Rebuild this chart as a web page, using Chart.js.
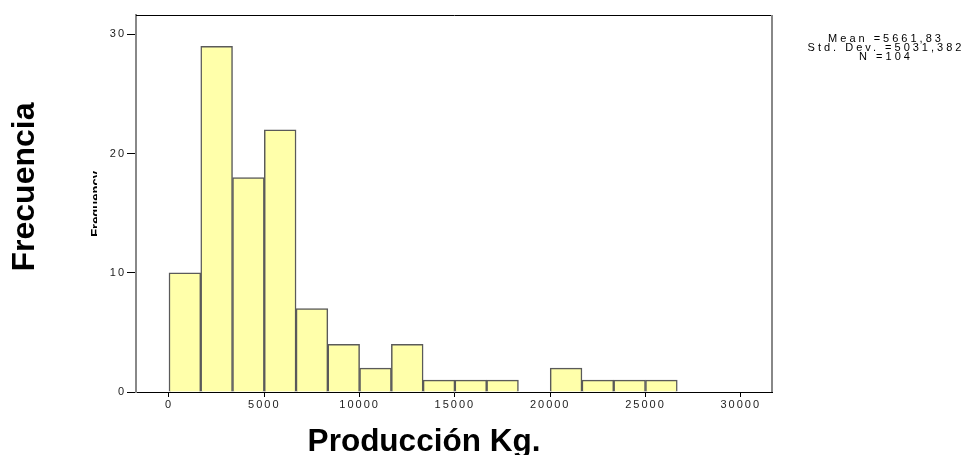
<!DOCTYPE html>
<html><head><meta charset="utf-8">
<script src="https://cdn.jsdelivr.net/npm/chart.js@4.4.0/dist/chart.umd.min.js"></script>
<style>html,body{margin:0;padding:0;background:#fff;overflow:hidden}#wrap{position:relative;width:962px;height:455px}</style>
</head><body><div id="wrap"><canvas id="c" width="962" height="455"></canvas></div>
<script>
const binStarts = [0, 1666.67, 3333.33, 5000, 6666.67, 8333.33, 10000, 11666.67, 13333.33, 15000, 16666.67, 18333.33, 20000, 21666.67, 23333.33, 25000];
const binWidth = 1666.67;
const frequencies = [10, 29, 18, 22, 7, 4, 2, 4, 1, 1, 1, 0, 2, 1, 1, 1];
const xTickValues = [0, 5000, 10000, 15000, 20000, 25000, 30000];
const yTickValues = [0, 10, 20, 30];
const xTitle = 'Producción Kg.';
const yTitle = 'Frecuencia';
const hiddenTitle = 'Frequency';
const statsLines = ['Mean =5661,83', 'Std. Dev. =5031,382', 'N =104'];

const points = binStarts.map((s, i) => ({ x: s + binWidth / 2, y: frequencies[i] }));

const textPlugin = {
  id: 'texts',
  beforeDraw(chart) { chart.ctx.letterSpacing = '2px'; },
  afterDraw(chart) {
    const ctx = chart.ctx;
    const a = chart.chartArea;
    ctx.save();
    ctx.letterSpacing = '0px';
    ctx.strokeStyle = '#000'; ctx.lineWidth = 1;
    ctx.beginPath(); ctx.moveTo(a.left, a.top + 0.5); ctx.lineTo(a.right + 1, a.top + 0.5); ctx.stroke();
    ctx.strokeStyle = '#888'; ctx.lineWidth = 2;
    ctx.beginPath(); ctx.moveTo(a.right, a.top); ctx.lineTo(a.right, a.bottom); ctx.stroke();
    ctx.fillStyle = '#000';
    ctx.font = 'bold 31.5px "Liberation Sans", Arial, sans-serif';
    ctx.textAlign = 'center'; ctx.textBaseline = 'alphabetic';
    ctx.fillText(xTitle, 424, 451);
    ctx.save();
    ctx.translate(34, 187); ctx.rotate(-Math.PI / 2);
    ctx.font = 'bold 32px "Liberation Sans", Arial, sans-serif';
    ctx.fillText(yTitle, 0, 0);
    ctx.restore();
    ctx.save();
    ctx.beginPath(); ctx.rect(89, 160, 8, 90); ctx.clip();
    ctx.translate(100, 204); ctx.rotate(-Math.PI / 2);
    ctx.font = 'bold 13px "Liberation Sans", Arial, sans-serif';
    ctx.fillText(hiddenTitle, 0, 0);
    ctx.restore();
    ctx.font = '11px "Liberation Sans", Arial, sans-serif';
    ctx.letterSpacing = '3px';
    ctx.textBaseline = 'middle';
    statsLines.forEach((t, i) => ctx.fillText(t, 886, 39 + i * 9));
    ctx.restore();
  }
};

new Chart(document.getElementById('c'), {
  type: 'bar',
  data: {
    datasets: [{
      data: points,
      backgroundColor: '#FFFFAA',
      borderColor: '#5a5a5a',
      borderWidth: 1.5,
      barPercentage: 1,
      categoryPercentage: 1
    }]
  },
  options: {
    responsive: false,
    animation: false,
    devicePixelRatio: 1,
    layout: { padding: { left: 0, top: 15, right: 190, bottom: 0 } },
    plugins: { legend: { display: false }, tooltip: { enabled: false } },
    scales: {
      x: {
        type: 'linear',
        offset: false,
        min: -1731,
        max: 31637,
        afterFit(s) { s.height = 63; },
        afterBuildTicks(s) { s.ticks = xTickValues.map(v => ({ value: v })); },
        grid: { offset: false, drawOnChartArea: false, drawTicks: true, tickLength: 5, color: '#000', lineWidth: 1 },
        border: { display: true, color: '#000', width: 1 },
        ticks: { callback: v => String(v), font: { family: 'Liberation Sans', size: 11 }, color: '#222', padding: 1, maxRotation: 0, autoSkip: false }
      },
      y: {
        min: 0,
        max: 31.63,
        afterFit(s) { s.width = 136; },
        afterBuildTicks(s) { s.ticks = yTickValues.map(v => ({ value: v })); },
        grid: { drawOnChartArea: false, drawTicks: true, tickLength: 9, color: '#000', lineWidth: 1 },
        border: { display: true, color: '#888', width: 2 },
        ticks: { callback: v => String(v), font: { family: 'Liberation Sans', size: 11 }, color: '#222', padding: 1, autoSkip: false }
      }
    }
  },
  plugins: [textPlugin]
});
</script>
</body></html>
